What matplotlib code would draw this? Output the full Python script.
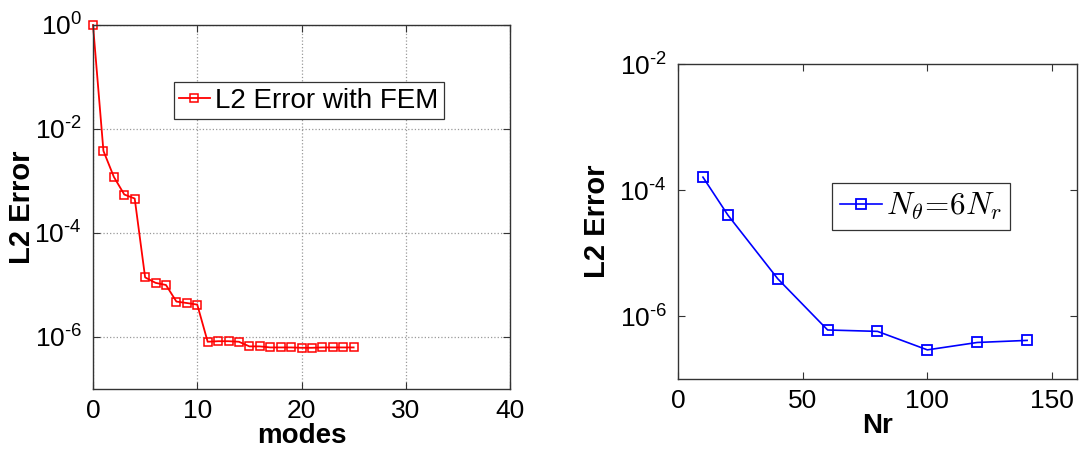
import math
import matplotlib
matplotlib.use("Agg")
import matplotlib.pyplot as plt
from matplotlib.ticker import FixedLocator, NullLocator, FuncFormatter

plt.rcParams["font.family"] = "Liberation Sans"
plt.rcParams["mathtext.fontset"] = "custom"
plt.rcParams["mathtext.rm"] = "Liberation Sans"
plt.rcParams["mathtext.it"] = "Liberation Sans:italic"
plt.rcParams["mathtext.bf"] = "Liberation Sans:bold"

# left panel: error vs number of modes
modes = list(range(26))
err_modes = [1.0, 3.8e-3, 1.2e-3, 5.5e-4, 4.6e-4, 1.4e-5, 1.1e-5, 1.0e-5,
             4.8e-6, 4.5e-6, 4.2e-6, 8.1e-7, 8.3e-7, 8.3e-7, 8.1e-7, 6.6e-7,
             6.6e-7, 6.3e-7, 6.3e-7, 6.3e-7, 6.2e-7, 6.2e-7, 6.3e-7, 6.3e-7,
             6.3e-7, 6.3e-7]

# right panel: error vs radial resolution
nr = [10, 20, 40, 60, 80, 100, 120, 140]
err_nr = [1.6e-4, 4.0e-5, 3.9e-6, 6.0e-7, 5.7e-7, 2.9e-7, 3.8e-7, 4.1e-7]

W, H = 1089, 455
fig = plt.figure(figsize=(W / 100, H / 100), dpi=100)

ax1 = fig.add_axes([93 / W, 1 - 389 / H, 417 / W, 364 / H])
ax2 = fig.add_axes([678 / W, 1 - 379 / H, 399 / W, 315 / H])


def pow10(v, pos):
    # matlab style exponent with a short hyphen
    e = int(round(math.log10(v)))
    s = str(e).replace("-", "\u2010")
    return r"$\mathregular{10^{%s}}$" % s


def style_axes(ax):
    ax.set_yscale("log")
    ax.yaxis.set_minor_locator(NullLocator())
    ax.yaxis.set_major_formatter(FuncFormatter(pow10))
    ax.tick_params(direction="in", length=5, width=0.8, labelsize=19,
                   top=True, right=True, color="#333333")
    ax.tick_params(axis="x", pad=7)
    ax.tick_params(axis="y", pad=8)
    for s in ax.spines.values():
        s.set_linewidth(1.0)
        s.set_color("#333333")


ax1.plot(modes, err_modes, "-s", color="red", lw=1.3, ms=6,
         mfc="none", mew=1.1, label="L2 Error with FEM", clip_on=False)
style_axes(ax1)
ax1.set_xlim(0, 40)
ax1.set_ylim(1e-7, 1)
ax1.set_xticks([0, 10, 20, 30, 40])
ax1.yaxis.set_major_locator(FixedLocator([1e-6, 1e-4, 1e-2, 1]))
ax1.grid(True, ls=":", color="#999999", lw=0.9)
ax1.set_xlabel("modes", fontsize=20, fontweight="bold", labelpad=0)
ax1.set_ylabel("L2 Error", fontsize=21, fontweight="bold")
ax1.yaxis.set_label_coords(-0.137, 0.5)
leg1 = ax1.legend(loc="upper right", bbox_to_anchor=(444 / W, 1 - 82 / H),
                  bbox_transform=fig.transFigure, fontsize=20,
                  handlelength=1.1, handletextpad=0.2, borderpad=0.2,
                  borderaxespad=0, fancybox=False, framealpha=1)
leg1.get_frame().set_edgecolor("#333333")
leg1.get_frame().set_linewidth(0.9)

ax2.plot(nr, err_nr, "-s", color="blue", lw=1.2, ms=7,
         mfc="none", mew=1.3, label=r"$N_\theta\!=\!6N_r$")
style_axes(ax2)
ax2.set_xlim(0, 160)
ax2.set_ylim(1e-7, 1e-2)
ax2.set_xticks([0, 50, 100, 150])
ax2.yaxis.set_major_locator(FixedLocator([1e-6, 1e-4, 1e-2]))
ax2.set_xlabel("Nr", fontsize=20, fontweight="bold", labelpad=0)
ax2.set_ylabel("L2 Error", fontsize=21, fontweight="bold")
ax2.yaxis.set_label_coords(-0.168, 0.5)
leg2 = ax2.legend(loc="upper right", bbox_to_anchor=(1010 / W, 1 - 183 / H),
                  bbox_transform=fig.transFigure, fontsize=22.5,
                  handlelength=1.35, handletextpad=0.15, borderpad=0.25,
                  borderaxespad=0, fancybox=False, framealpha=1)
leg2.get_frame().set_edgecolor("#333333")
leg2.get_frame().set_linewidth(0.9)
for t in leg2.get_texts():
    t.set_math_fontfamily("cm")

fig.savefig("out.png", dpi=100)
